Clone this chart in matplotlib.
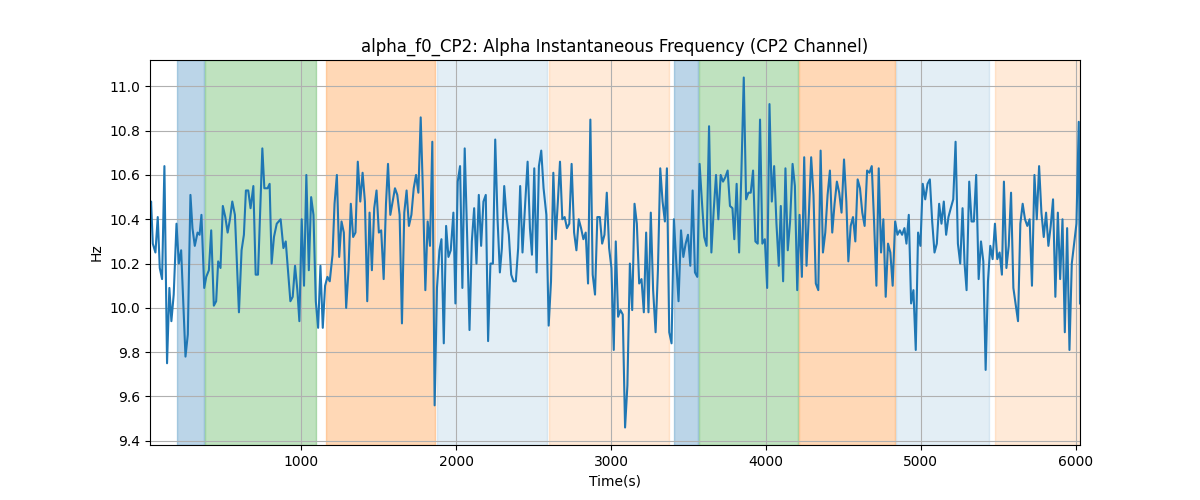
import matplotlib
matplotlib.use("Agg")
import matplotlib.pyplot as plt

# sample times (s) and alpha instantaneous frequency (Hz)
times = [25, 32, 43, 60, 75, 88, 103, 118, 135, 150, 163, 178, 196, 211, 226, 254, 269,
         286, 299, 314, 332, 345, 357, 375, 388, 405, 420, 437, 452, 465, 480, 495, 511,
         526, 541, 556, 573, 599, 616, 631, 644, 659, 674, 692, 707, 722, 750, 763, 784,
         797, 810, 825, 843, 868, 886, 901, 918, 931, 946, 961, 976, 989, 1004, 1019, 1034,
         1050, 1065, 1080, 1095, 1110, 1125, 1140, 1155, 1170, 1185, 1203, 1216, 1231, 1246,
         1261, 1276, 1291, 1306, 1321, 1336, 1351, 1366, 1382, 1397, 1412, 1427, 1442, 1457,
         1472, 1487, 1502, 1517, 1533, 1548, 1561, 1576, 1591, 1606, 1621, 1636, 1651, 1666,
         1681, 1696, 1712, 1727, 1742, 1757, 1772, 1787, 1802, 1817, 1832, 1847, 1862, 1877,
         1893, 1906, 1921, 1936, 1951, 1966, 1983, 1996, 2011, 2026, 2041, 2056, 2072, 2087,
         2102, 2117, 2132, 2147, 2162, 2177, 2192, 2207, 2222, 2238, 2253, 2268, 2283, 2296,
         2311, 2326, 2341, 2356, 2371, 2386, 2401, 2414, 2429, 2447, 2462, 2477, 2490, 2505,
         2520, 2535, 2550, 2565, 2583, 2598, 2613, 2628, 2643, 2658, 2671, 2686, 2701, 2716,
         2731, 2746, 2762, 2777, 2792, 2807, 2822, 2837, 2852, 2867, 2882, 2897, 2912, 2928,
         2943, 2958, 2973, 2988, 3003, 3018, 3031, 3046, 3061, 3076, 3091, 3106, 3122, 3137,
         3152, 3167, 3182, 3197, 3212, 3227, 3242, 3257, 3272, 3288, 3303, 3318, 3333, 3348,
         3361, 3376, 3391, 3406, 3421, 3436, 3452, 3467, 3482, 3497, 3512, 3527, 3542, 3557,
         3572, 3587, 3602, 3617, 3633, 3648, 3663, 3678, 3693, 3708, 3723, 3738, 3753, 3768,
         3784, 3796, 3811, 3827, 3842, 3857, 3872, 3887, 3902, 3917, 3932, 3947, 3962, 3977,
         3993, 4008, 4023, 4038, 4053, 4068, 4083, 4096, 4111, 4126, 4141, 4156, 4172, 4187,
         4202, 4217, 4232, 4247, 4262, 4277, 4292, 4307, 4322, 4338, 4353, 4368, 4383, 4398,
         4413, 4428, 4443, 4458, 4473, 4488, 4504, 4519, 4532, 4547, 4562, 4577, 4592, 4607,
         4622, 4637, 4653, 4668, 4683, 4698, 4713, 4728, 4743, 4758, 4773, 4788, 4803, 4818,
         4834, 4849, 4864, 4879, 4894, 4907, 4922, 4937, 4952, 4967, 4982, 4997, 5012, 5028,
         5043, 5058, 5073, 5088, 5103, 5118, 5133, 5148, 5163, 5178, 5193, 5209, 5224, 5239,
         5254, 5269, 5282, 5295, 5312, 5327, 5342, 5357, 5373, 5388, 5403, 5418, 5433, 5448,
         5463, 5478, 5493, 5508, 5523, 5536, 5552, 5567, 5582, 5597, 5627, 5642, 5657, 5672,
         5687, 5702, 5717, 5733, 5748, 5763, 5778, 5793, 5808, 5823, 5838, 5853, 5868, 5884,
         5899, 5914, 5929, 5944, 5959, 5974, 6004, 6019, 6027]
freq = [10.40, 10.48, 10.29, 10.25, 10.41, 10.18, 10.13, 10.64, 9.75, 10.09, 9.94, 10.06,
        10.38, 10.20, 10.26, 9.78, 9.88, 10.51, 10.36, 10.28, 10.34, 10.33, 10.42, 10.09,
        10.14, 10.17, 10.35, 10.01, 10.03, 10.21, 10.18, 10.46, 10.41, 10.34, 10.40, 10.48,
        10.42, 9.98, 10.26, 10.33, 10.53, 10.53, 10.45, 10.55, 10.15, 10.15, 10.72, 10.54,
        10.54, 10.56, 10.20, 10.32, 10.38, 10.40, 10.27, 10.30, 10.15, 10.03, 10.05, 10.19,
        10.08, 9.94, 10.40, 10.10, 10.60, 10.17, 10.50, 10.42, 10.03, 9.91, 10.19, 9.91,
        10.10, 10.14, 10.12, 10.24, 10.47, 10.60, 10.23, 10.39, 10.34, 10.00, 10.17, 10.47,
        10.32, 10.34, 10.66, 10.48, 10.61, 10.48, 10.03, 10.43, 10.17, 10.45, 10.53, 10.34,
        10.35, 10.13, 10.47, 10.65, 10.42, 10.48, 10.54, 10.51, 10.42, 9.93, 10.43, 10.53,
        10.37, 10.42, 10.54, 10.60, 10.52, 10.86, 10.51, 10.08, 10.39, 10.28, 10.75, 9.56,
        10.09, 10.26, 10.31, 9.84, 10.37, 10.23, 10.26, 10.43, 10.02, 10.57, 10.64, 10.09,
        10.72, 10.32, 9.90, 10.30, 10.45, 10.20, 10.51, 10.28, 10.48, 10.51, 9.85, 10.20,
        10.20, 10.76, 10.40, 10.16, 10.27, 10.55, 10.41, 10.33, 10.15, 10.12, 10.12, 10.27,
        10.55, 10.25, 10.48, 10.66, 10.36, 10.24, 10.63, 10.16, 10.64, 10.71, 10.54, 10.42,
        9.92, 10.12, 10.61, 10.31, 10.49, 10.66, 10.40, 10.41, 10.36, 10.38, 10.65, 10.34,
        10.26, 10.40, 10.36, 10.31, 10.34, 10.11, 10.85, 10.15, 10.06, 10.41, 10.41, 10.29,
        10.33, 10.52, 10.27, 10.18, 9.81, 10.30, 9.96, 9.99, 9.97, 9.46, 9.65, 10.20, 9.99,
        10.47, 10.38, 10.11, 10.13, 9.98, 10.34, 9.98, 10.43, 10.08, 9.89, 10.17, 10.63,
        10.48, 10.39, 10.63, 9.89, 9.84, 10.40, 10.21, 10.03, 10.35, 10.23, 10.29, 10.33,
        10.19, 10.53, 10.16, 10.14, 10.65, 10.48, 10.32, 10.28, 10.82, 10.25, 10.44, 10.60,
        10.40, 10.60, 10.57, 10.59, 10.62, 10.46, 10.45, 10.31, 10.56, 10.25, 10.62, 11.04,
        10.49, 10.52, 10.52, 10.62, 10.30, 10.29, 10.85, 10.29, 10.31, 10.09, 10.92, 10.48,
        10.64, 10.38, 10.19, 10.46, 10.12, 10.63, 10.26, 10.39, 10.65, 10.55, 10.08, 10.42,
        10.14, 10.68, 10.19, 10.42, 10.68, 10.51, 10.11, 10.08, 10.71, 10.25, 10.34, 10.51,
        10.62, 10.34, 10.47, 10.57, 10.52, 10.43, 10.67, 10.48, 10.21, 10.37, 10.41, 10.30,
        10.58, 10.54, 10.43, 10.37, 10.62, 10.61, 10.64, 10.39, 10.10, 10.63, 10.25, 10.40,
        10.05, 10.29, 10.25, 10.10, 10.39, 10.33, 10.35, 10.33, 10.36, 10.29, 10.42, 10.02,
        10.08, 9.81, 10.34, 10.28, 10.56, 10.49, 10.56, 10.58, 10.39, 10.25, 10.29, 10.47,
        10.38, 10.48, 10.33, 10.41, 10.45, 10.49, 10.75, 10.29, 10.20, 10.45, 10.20, 10.08,
        10.57, 10.39, 10.39, 10.60, 10.13, 10.30, 10.21, 9.72, 10.12, 10.28, 10.22, 10.38,
        10.22, 10.25, 10.15, 10.57, 10.18, 10.28, 10.52, 10.09, 9.94, 10.38, 10.47, 10.40,
        10.37, 10.40, 10.10, 10.60, 10.40, 10.64, 10.43, 10.32, 10.43, 10.28, 10.37, 10.49,
        10.05, 10.43, 10.13, 10.40, 9.89, 10.36, 9.81, 10.20, 10.38, 10.84, 10.02]

# shaded segments: (start, end, colour, alpha)
span_starts = [200, 379, 1162, 1877, 2602, 3406, 3570, 4215, 4840, 5476]
span_ends = [375, 1095, 1862, 2587, 3374, 3562, 4208, 4836, 5442, 6027]
span_colors = ["C0", "C2", "C1", "C0", "C1", "C0", "C2", "C1", "C0", "C1"]
span_alphas = [0.3, 0.3, 0.3, 0.12, 0.16, 0.3, 0.3, 0.3, 0.12, 0.16]

fig, ax = plt.subplots(figsize=(12, 5), dpi=100)
for s, e, c, a in zip(span_starts, span_ends, span_colors, span_alphas):
    ax.axvspan(s, e, color=c, alpha=a)
ax.plot(times, freq, color="C0")
ax.margins(x=0)
ax.grid(True)
ax.set_title("alpha_f0_CP2: Alpha Instantaneous Frequency (CP2 Channel)")
ax.set_xlabel("Time(s)")
ax.set_ylabel("Hz")
fig.savefig("out.png")
